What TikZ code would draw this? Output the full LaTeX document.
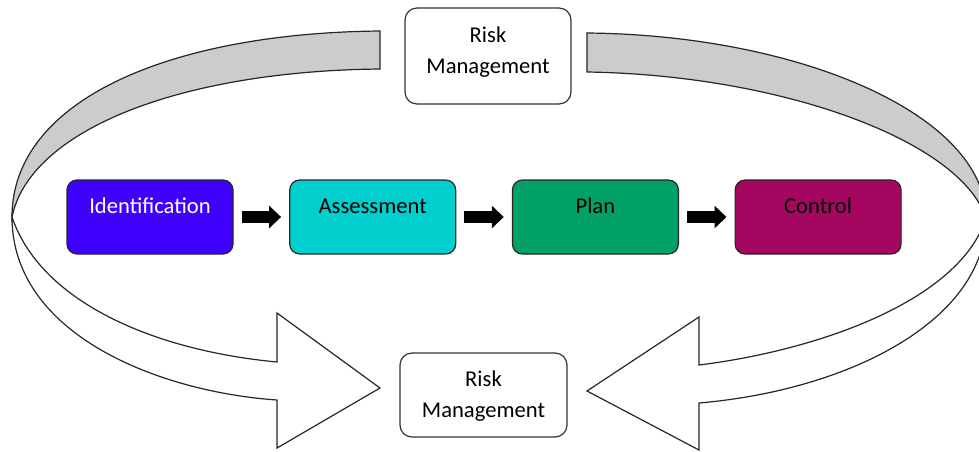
\documentclass[tikz,border=0pt]{standalone}
\usepackage{fontspec}
\setmainfont{Carlito}
\usepackage{tikz}
\usetikzlibrary{%
  arrows.meta,%
  positioning%
}

\definecolor{identblue}{HTML}{3F00FF}
\definecolor{assesscyan}{HTML}{00CFCD}
\definecolor{plangreen}{HTML}{00A066}
\definecolor{ctrlmagenta}{HTML}{A3075F}
\definecolor{bandgrey}{HTML}{CCCCCC}

\begin{document}
\begin{tikzpicture}[x=0.5pt,y=-0.5pt,
  stage/.style={draw=black!85,line width=0.6pt,rounded corners=5pt,
    minimum width=83pt,inner ysep=0pt,text height=16.7pt,text depth=20.3pt,
    font=\fontsize{11.3}{15.5}\selectfont},
  riskbox/.style={draw=black!80,line width=0.6pt,rounded corners=6pt,fill=white,
    align=center,inner ysep=0pt,font=\fontsize{11.3}{15.5}\selectfont},
  smallarrow/.style={line width=6pt,-{Triangle[length=6pt,width=11pt]},
    shorten <=4pt,shorten >=4pt},
  band/.style={draw=black!85,line width=0.6pt},
  node distance=27.75pt]

\useasboundingbox (0,0) rectangle (979,451);
\clip (0,0) rectangle (979,451);

% left loop
\draw[band,fill=bandgrey] (380,31) .. controls (170,33) and (12,100) .. (12,217)
  .. controls (30,130) and (180,71) .. (380,69) -- cycle;
\draw[band,fill=white] (12,217) .. controls (40,300) and (150,350) .. (277,362)
  -- (277,313) -- (380,388) -- (277,448) -- (277,400)
  .. controls (160,392) and (12,335) .. (12,217) -- cycle;

% right loop
\draw[band,fill=bandgrey] (587,33) .. controls (800,35) and (986,115) .. (986,218)
  .. controls (960,140) and (780,75) .. (587,72) -- cycle;
\draw[band,fill=white] (986,218) .. controls (960,300) and (820,350) .. (699,365)
  -- (699,317) -- (587,391) -- (699,450) -- (699,403)
  .. controls (850,390) and (986,320) .. (986,218) -- cycle;

\node[riskbox,minimum width=83pt,text height=32.5pt,text depth=15.5pt] (riskTop) at (488,56) {Risk\\Management};
\node[riskbox,minimum width=83.5pt,text height=32pt,text depth=10pt] (riskBot) at (483.5,395) {Risk\\Management};

\node[stage,fill=identblue,text=white] (ident) at (150,217) {Identification};
\node[stage,fill=assesscyan,right=of ident] (assess) {Assessment};
\node[stage,fill=plangreen,right=of assess] (plan) {Plan};
\node[stage,fill=ctrlmagenta,right=of plan] (ctrl) {Control};

\draw[smallarrow] (ident) -- (assess);
\draw[smallarrow] (assess) -- (plan);
\draw[smallarrow] (plan) -- (ctrl);

\end{tikzpicture}
\end{document}
